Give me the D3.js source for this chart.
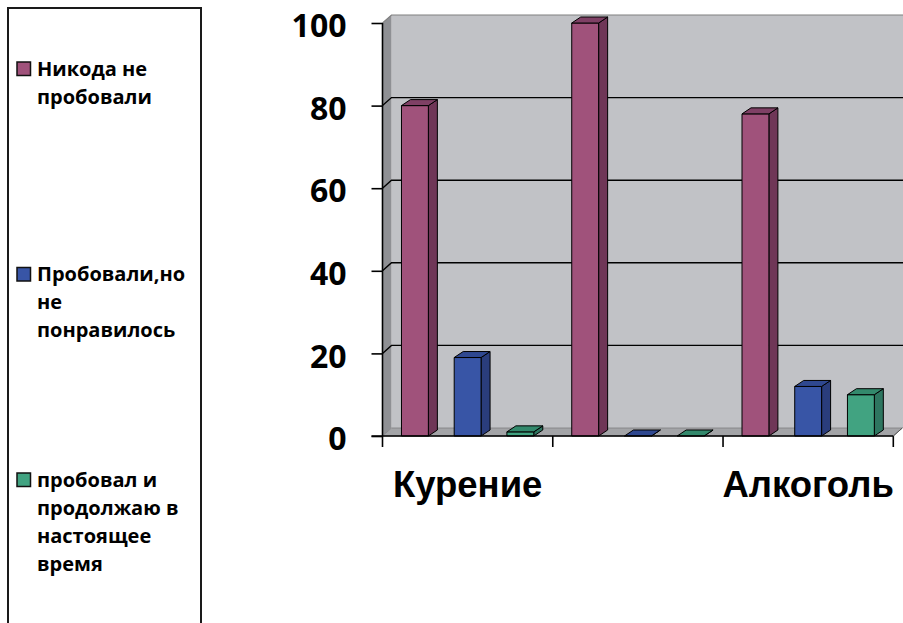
<!DOCTYPE html>
<html>
<head>
<meta charset="utf-8">
<script src="https://cdn.jsdelivr.net/npm/d3@7"></script>
<style>
  html, body { margin: 0; padding: 0; background: #fff; }
  svg { display: block; }
</style>
</head>
<body>
<svg id="chart" width="903" height="623"></svg>
<script>
// Categories along the x axis (the middle group carries no label)
const categories = ["Курение", "", "Алкоголь"];

// Series names and their wrapped legend lines
const seriesNames = [
  "Никода не пробовали",
  "Пробовали,но не понравилось",
  "пробовал и продолжаю в настоящее время"
];
const legendLines = [
  ["Никода не", "пробовали"],
  ["Пробовали,но", "не", "понравилось"],
  ["пробовал и", "продолжаю в", "настоящее", "время"]
];

// Values per series, one per category
const neverTried    = [80, 100, 78];
const triedDisliked = [19, 0, 12];
const stillUsing    = [1, 0, 10];

const yTicks = [0, 20, 40, 60, 80, 100];

// Face colours for each series: front, side, top
const palette = [
  { front: "#A0527B", side: "#6F3657", top: "#7F4065" },
  { front: "#3855A6", side: "#2A3D7C", top: "#2F4890" },
  { front: "#41A381", side: "#2E7660", top: "#33896C" }
];

const seriesValues = [neverTried, triedDisliked, stillUsing];

const svg = d3.select("#chart");
svg.append("rect").attr("width", 903).attr("height", 623).attr("fill", "#fff");

// ---- scales ----
const xLeft = 382.5, xRight = 893.3;
const y = d3.scaleLinear().domain([0, 100]).range([436, 23]);
const x0 = d3.scaleBand().domain(categories).range([xLeft, xRight]).padding(0);
const x1 = d3.scaleBand().domain(d3.range(seriesNames.length))
  .range([0, x0.bandwidth()]).paddingInner(0.49).paddingOuter(0.36);

// depth offsets for walls and columns
const wdx = 9, wdy = -8;
const bdx = 9, bdy = -6;

const plot = svg.append("g");

// back wall
plot.append("rect")
  .attr("x", xLeft + wdx).attr("y", y(100) + wdy)
  .attr("width", 903 - (xLeft + wdx)).attr("height", y(0) - y(100))
  .attr("fill", "#C1C2C6");

// side wall
plot.append("path")
  .attr("d", d3.line()([
    [xLeft, y(0)], [xLeft + wdx, y(0) + wdy],
    [xLeft + wdx, y(100) + wdy], [xLeft, y(100)]
  ]) + "Z")
  .attr("fill", "#8F9094");

// floor
plot.append("path")
  .attr("d", d3.line()([
    [xLeft, y(0)], [xLeft + wdx, y(0) + wdy],
    [xRight + wdx, y(0) + wdy], [xRight, y(0)]
  ]) + "Z")
  .attr("fill", "#A3A4A7")
  .attr("stroke", "#7d7d80").attr("stroke-width", 0.8);

// top edge of the walls
plot.append("path")
  .attr("d", d3.line()([
    [xLeft, y(100)], [xLeft + wdx, y(100) + wdy], [903, y(100) + wdy]
  ]))
  .attr("fill", "none").attr("stroke", "#808080").attr("stroke-width", 1.2);

// gridlines on walls
yTicks.filter(v => v > 0 && v < 100).forEach(v => {
  plot.append("path")
    .attr("d", d3.line()([
      [xLeft, y(v)], [xLeft + wdx, y(v) + wdy], [903, y(v) + wdy]
    ]))
    .attr("fill", "none").attr("stroke", "#000").attr("stroke-width", 1.4);
});

// ---- columns ----
const bars = [];
categories.forEach((c, ci) => {
  seriesValues.forEach((vals, si) => {
    bars.push({ c, ci, si, v: vals[ci] });
  });
});

const bw = x1.bandwidth();
const barG = plot.append("g")
  .attr("stroke", "#000").attr("stroke-width", 1).attr("stroke-linejoin", "round");

bars.forEach(b => {
  const xs = x0(b.c) + x1(b.si);
  const yt = y(b.v), yb = y(0);
  const col = palette[b.si];
  const g = barG.append("g");
  // side face
  g.append("path")
    .attr("d", d3.line()([
      [xs + bw, yt], [xs + bw + bdx, yt + bdy],
      [xs + bw + bdx, yb + bdy], [xs + bw, yb]
    ]) + "Z")
    .attr("fill", col.side);
  // front face
  g.append("rect")
    .attr("x", xs).attr("y", yt)
    .attr("width", bw).attr("height", Math.max(0, yb - yt))
    .attr("fill", col.front);
  // top face
  g.append("path")
    .attr("d", d3.line()([
      [xs, yt], [xs + bdx, yt + bdy],
      [xs + bw + bdx, yt + bdy], [xs + bw, yt]
    ]) + "Z")
    .attr("fill", col.top);
});

// ---- axes ----
const yAxis = d3.axisLeft(y).tickValues(yTicks).tickSize(11).tickPadding(25);
const yg = svg.append("g").attr("transform", `translate(${xLeft},0)`).call(yAxis);
yg.select(".domain").attr("stroke", "#000").attr("stroke-width", 1.6)
  .attr("d", `M0,${y(100)}V${y(0)}`);
yg.selectAll(".tick line").attr("stroke", "#000").attr("stroke-width", 1.6);
yg.selectAll(".tick text")
  .attr("font-family", "'Open Sans', sans-serif")
  .attr("font-weight", "bold")
  .attr("font-size", "32px")
  .attr("fill", "#000")
  .attr("dy", "0.43em");

const xAxis = d3.axisBottom(x0).tickSize(0).tickPadding(35);
const xg = svg.append("g").attr("transform", `translate(0,${y(0)})`).call(xAxis);
xg.select(".domain").attr("stroke", "#000").attr("stroke-width", 1.6)
  .attr("d", `M${xLeft - 11},0H${xRight}`);
xg.selectAll(".tick text")
  .attr("font-family", "'Liberation Sans', Arial, sans-serif")
  .attr("font-weight", "bold")
  .attr("font-size", "36.5px")
  .attr("fill", "#000")
  .attr("dy", "0.71em");

// boundary ticks between categories
const bounds = categories.map(c => x0(c)).concat([xRight]);
xg.selectAll(".bound").data(bounds).join("line")
  .attr("class", "bound")
  .attr("x1", d => d).attr("x2", d => d)
  .attr("y1", 0).attr("y2", 11)
  .attr("stroke", "#000").attr("stroke-width", 1.6);

// right end of floor
svg.append("line")
  .attr("x1", xRight).attr("y1", y(0))
  .attr("x2", xRight + wdx).attr("y2", y(0) + wdy)
  .attr("stroke", "#555").attr("stroke-width", 1);

// ---- legend ----
const legend = svg.append("g");
legend.append("rect")
  .attr("x", 8).attr("y", 8).attr("width", 193).attr("height", 700)
  .attr("fill", "#fff").attr("stroke", "#1a1a1a").attr("stroke-width", 2);

const itemTops = [62, 267.5, 473];
seriesNames.forEach((name, i) => {
  const g = legend.append("g").attr("transform", `translate(0,${itemTops[i]})`);
  g.append("rect")
    .attr("x", 17).attr("y", 0).attr("width", 13.5).attr("height", 13.5)
    .attr("fill", palette[i].front).attr("stroke", "#111").attr("stroke-width", 1.5);
  const t = g.append("text")
    .attr("font-family", "'Open Sans', sans-serif")
    .attr("font-weight", "bold")
    .attr("font-size", "20px")
    .attr("fill", "#000");
  legendLines[i].forEach((line, li) => {
    t.append("tspan").attr("x", 37).attr("y", 13.5 + li * 28).text(line);
  });
});
</script>
</body>
</html>
